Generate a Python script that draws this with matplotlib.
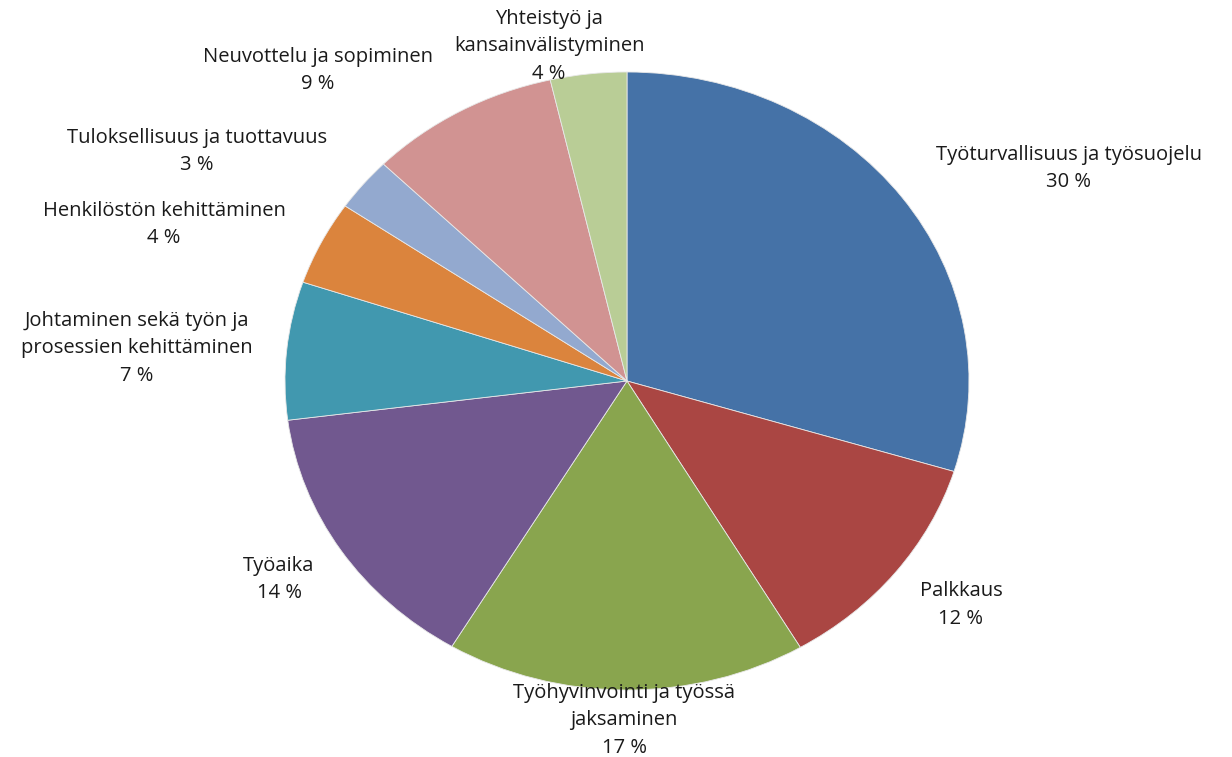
import matplotlib
matplotlib.use("Agg")
import matplotlib.pyplot as plt

categories = [
    "Työturvallisuus ja työsuojelu",
    "Palkkaus",
    "Työhyvinvointi ja työssä\njaksaminen",
    "Työaika",
    "Johtaminen sekä työn ja\nprosessien kehittäminen",
    "Henkilöstön kehittäminen",
    "Tuloksellisuus ja tuottavuus",
    "Neuvottelu ja sopiminen",
    "Yhteistyö ja\nkansainvälistyminen",
]
shares = [29.7, 11.8, 17.0, 14.4, 7.2, 4.4, 2.8, 9.0, 3.6]
colors = ["#4572A7", "#AA4643", "#89A54E", "#71588F", "#4198AF",
          "#DB843D", "#93A9CF", "#D19392", "#B9CD96"]

# label centres (pixel coords of the first line)
label_pos = [(1069, 155), (961, 591), (624, 693), (279, 566), (137, 321),
             (164, 211), (197, 138), (318, 57), (549, 19)]

W, H = 1232, 757
cx, cy, rx, ry = 627, 381, 342, 309

fig = plt.figure(figsize=(W / 100, H / 100), dpi=100)
ax = fig.add_axes([0, 0, 1, 1])
ax.pie(shares, colors=colors, startangle=90, counterclock=False, radius=1,
       wedgeprops=dict(edgecolor="#e8e8e8", linewidth=0.6))
ax.set_aspect("auto")
ax.set_xlim(-cx / rx, (W - cx) / rx)
ax.set_ylim(-(H - cy) / ry, cy / ry)
ax.axis("off")

line_h = 27.5
for name, val, (px, py) in zip(categories, shares, label_pos):
    lines = name.split("\n") + [f"{val:.0f} %"]
    for i, ln in enumerate(lines):
        x = (px - cx) / rx
        y = -(py + i * line_h - cy) / ry
        ax.text(x, y, ln, ha="center", va="center", fontsize=14.5,
                family="Open Sans", color="#1a1a1a")

fig.savefig("out.png", dpi=100)
